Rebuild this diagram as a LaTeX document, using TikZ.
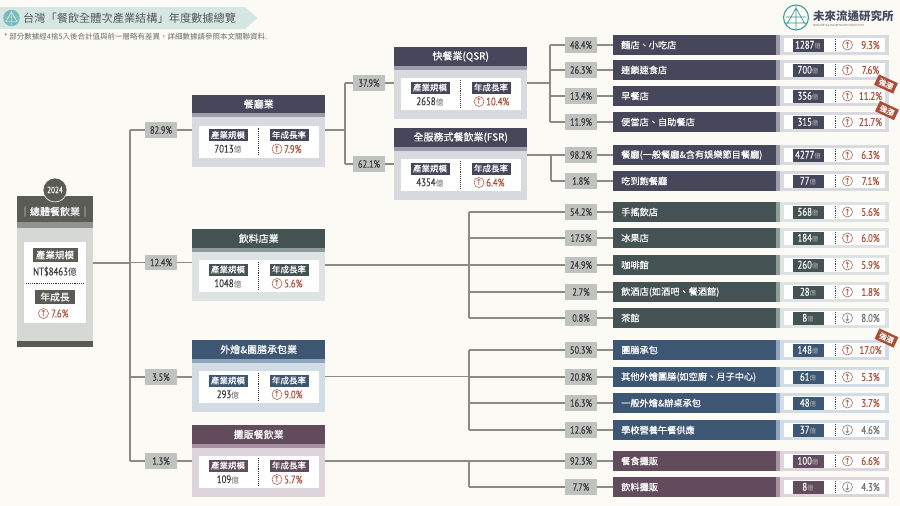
\documentclass[tikz,border=0pt]{standalone}
\usepackage{fontspec}
\setmainfont{Noto Sans CJK TC}
\newfontfamily\medfont[FakeBold=0.35]{Noto Sans CJK TC}
\newfontfamily\numfont[FakeStretch=0.8,FakeBold=0.2]{PT Sans}
\newfontfamily\arrowfont{DejaVu Sans}
\definecolor{bgc}{HTML}{FBFAF5}
\definecolor{linec}{HTML}{8B8B85}
\definecolor{pctc}{HTML}{BFC3BD}
\definecolor{redc}{HTML}{A94E36}
\definecolor{inkc}{HTML}{3A3A3A}
\definecolor{grayc}{HTML}{6B6E6C}
\definecolor{tealc}{HTML}{3F9C9C}
\definecolor{RDark}{HTML}{46475A}\definecolor{RMid}{HTML}{9C9DA9}\definecolor{RBody}{HTML}{D9DADF}
\definecolor{BDark}{HTML}{445253}\definecolor{BMid}{HTML}{8E9C9B}\definecolor{BBody}{HTML}{DDE2E2}
\definecolor{CDark}{HTML}{3D5674}\definecolor{CMid}{HTML}{8FA5BC}\definecolor{CBody}{HTML}{D2DCE5}
\definecolor{SDark}{HTML}{614B5C}\definecolor{SMid}{HTML}{A8929F}\definecolor{SBody}{HTML}{DED4DB}
\definecolor{GDark}{HTML}{5B5B55}\definecolor{GBody}{HTML}{D6D8D4}
\tikzset{
 conn/.style={draw=linec,line width=1.1pt},
 pct/.style={fill=pctc,text=inkc,font=\numfont\fontsize{10.5}{10.5}\selectfont,minimum width=32pt,minimum height=15.5pt,inner sep=0pt},
 tagbox/.style={text=white,font=\medfont\fontsize{8.5}{8.5}\selectfont,minimum height=12pt,inner sep=0pt},
 rowtxt/.style={text=white,font=\medfont\fontsize{9.2}{9.2}\selectfont,anchor=west,inner sep=0pt},
 valtxt/.style={font=\numfont\fontsize{11}{11}\selectfont,inner sep=0pt},
 uparrow/.style={draw=redc,circle,line width=0.5pt,minimum size=10pt,inner sep=0pt,text=redc,font=\fontsize{8.5}{8.5}\selectfont},
 downarrow/.style={draw=grayc,circle,line width=0.5pt,minimum size=10pt,inner sep=0pt,text=grayc,font=\fontsize{8.5}{8.5}\selectfont},
 hotbadge/.style={fill=redc,text=white,rotate=-25,font=\medfont\fontsize{7.5}{7.5}\selectfont,minimum width=21pt,minimum height=11.5pt,inner sep=0pt},
}
% #1 name, #2 y, #3 scheme, #4 pct, #5 label, #6 value, #7 rate, #8 u/d
\newcommand{\rowitem}[8]{%
 \node[pct] (p#1) at (581,-#2) {#4};
 \node[minimum width=163pt,minimum height=20pt,inner sep=0pt,fill=#3Dark,anchor=west] (b#1) at (613,-#2) {};
 \fill[#3Mid] (776,-#2-10) rectangle (780,-#2+10);
 \fill[#3Body] (780,-#2-10) rectangle (889,-#2+10);
 \fill[white] (784,-#2-7.3) rectangle (885,-#2+7.3);
 \node[rowtxt] (l#1) at (621,-#2) {#5};
 \fill[#3Dark] (792.5,-#2-6.5) rectangle (824,-#2+6.5);
 \node[valtxt,text=white] (v#1) at (808,-#2) {#6\textcolor{white!70!black}{\normalfont\fontsize{6.5}{6.5}\selectfont 億}};
 \draw[densely dotted,line width=0.9pt,color=inkc] (835,-#2-6) -- (835,-#2+6);
 \ifx#8u
  \node[uparrow] (a#1) at (847.5,-#2) {\arrowfont ↑};
  \node[valtxt,text=redc] (r#1) at (870.5,-#2) {#7};
 \else
  \node[downarrow] (a#1) at (847.5,-#2) {\arrowfont ↓};
  \node[valtxt,text=grayc] (r#1) at (870.5,-#2) {#7};
 \fi
 \draw[conn] (p#1) -- (b#1);
}
% #1 name, #2 x left, #3 y top, #4 scheme, #5 title, #6 value, #7 rate
\newcommand{\catbox}[7]{%
 \fill[#4Body] (#2,-#3) rectangle +(133,-72);
 \fill[#4Mid] (#2,-#3-18) rectangle +(133,-4.5);
 \node[minimum width=133pt,minimum height=18.5pt,inner sep=0pt,fill=#4Dark,anchor=north west,text=white,font=\medfont\fontsize{10}{10}\selectfont] (h#1) at (#2,-#3) {#5};
 \node[fill=white,minimum width=120pt,minimum height=32pt,inner sep=0pt,anchor=north west] (w#1) at (#2+6.5,-#3-31) {};
 \node[tagbox,fill=#4Dark,minimum width=39pt] at (#2+36,-#3-40.5) {產業規模};
 \node[tagbox,fill=#4Dark,minimum width=39pt] at (#2+97,-#3-40.5) {年成長率};
 \node[valtxt,text=inkc] at (#2+36,-#3-54.5) {#6\textcolor{grayc}{\normalfont\fontsize{8}{8}\selectfont 億}};
 \node[uparrow] (ca#1) at (#2+85,-#3-54.5) {\arrowfont ↑};
 \node[valtxt,text=redc,anchor=west] at (#2+92,-#3-54.5) {#7};
 \draw[densely dotted,line width=0.9pt,color=inkc] (#2+66.5,-#3-33) -- (#2+66.5,-#3-61);
}
\begin{document}
\begin{tikzpicture}[x=1pt,y=1pt]
\useasboundingbox (0,0) rectangle (900,-506);
\fill[bgc] (0,0) rectangle (900,-506);
% title banner
\fill[tealc!20!bgc] (0,-7) -- (245,-7) -- (257.5,-18) -- (245,-29) -- (0,-29) -- cycle;
\node[circle,fill=tealc!70!white,minimum size=16.5pt,inner sep=0pt] (tlogo) at (11.5,-18) {};
\draw[white,line width=0.4pt] (4.5,-17) -- (18.5,-17) (11.5,-10.5) -- (11.5,-25.5) (6,-21.5) -- (11.5,-12) -- (17,-21.5) (5.5,-21.5) -- (17.5,-21.5);
\node[anchor=west,inner sep=0pt,text=inkc!85!white,font=\fontsize{11.2}{11.2}\selectfont] (title) at (23,-18) {台灣「餐飲全體次產業結構」年度數據總覽};
\node[anchor=west,inner sep=0pt,text=grayc,font=\fontsize{7.5}{7.5}\selectfont] (note) at (4,-37) {* 部分數據經4捨5入後合計值與前一層略有差異，詳細數據請參照本文關聯資料.};
% logo
\node[draw=tealc,line width=1.1pt,circle,minimum size=25pt,inner sep=0pt] (logo) at (796,-17.5) {};
\draw[tealc,line width=0.7pt] (786,-17) -- (806,-17) (796,-6) -- (796,-29) (787,-24) -- (796,-8) -- (805,-24) (785,-23) -- (807,-23);
\node[anchor=west,inner sep=0pt,text=RDark!70!CDark,font=\bfseries\fontsize{11.5}{11.5}\selectfont] (lname) at (813,-16) {未來流通研究所};
\node[anchor=west,inner sep=0pt,text=grayc,font=\fontsize{2.8}{2.8}\selectfont] (lsub) at (813,-25.5) {MIRAI  RETAILING  RESEARCH  INSTITUTE};
% root
\fill[GBody] (17,-196) rectangle (93,-347);
\fill[GDark] (17,-196) rectangle (93,-222);
\fill[GDark!55!GBody] (17,-222) rectangle (93,-228);
\fill[GDark] (17,-341) rectangle (93,-347);
\node[circle,fill=GDark,draw=bgc,line width=0.6pt,minimum size=24pt,inner sep=0pt,text=white,font=\numfont\fontsize{9}{9}\selectfont] (yr) at (55,-190) {2024};
\node[text=white,font=\medfont\fontsize{10}{10}\selectfont,inner sep=0pt] (rt) at (55,-211.5) {│總體餐飲業│};
\node[fill=white,minimum width=62pt,minimum height=81pt,inner sep=0pt,anchor=north west] (rw) at (24,-242) {};
\node[tagbox,fill=GDark,minimum width=45pt,minimum height=14.5pt,font=\medfont\fontsize{9.5}{9.5}\selectfont] (r1) at (55,-255) {產業規模};
\node[text=inkc,font=\numfont\fontsize{11}{11}\selectfont,inner sep=0pt] (r2) at (55,-271.5) {NT\$8463\normalfont\fontsize{9}{9}\selectfont 億};
\draw[densely dotted,line width=0.9pt,color=inkc] (26,-283) -- (84,-283);
\node[tagbox,fill=GDark,minimum width=40pt,minimum height=14.5pt,font=\medfont\fontsize{9.7}{9.7}\selectfont] (r3) at (55,-297) {年成長};
\node[uparrow] (ra) at (43.5,-313.5) {\arrowfont ↑};
\node[valtxt,text=redc,anchor=west] (rr) at (51,-313.5) {7.6\%};
\coordinate (rootout) at (93,-263);
% trunks
\coordinate (t0a) at (130,-130); \coordinate (t0b) at (130,-461); \coordinate (t0c) at (130,-263);
\draw[conn] (t0a) -- (t0b);
\draw[conn] (rootout) -- (t0c);
\coordinate (t1a) at (345,-83); \coordinate (t1b) at (345,-164); \coordinate (t1c) at (345,-130);
\coordinate (t2a) at (550,-45); \coordinate (t2b) at (550,-122); \coordinate (t2c) at (550,-83);
\coordinate (t3a) at (551,-155); \coordinate (t3b) at (551,-181);
\coordinate (t4a) at (469,-212); \coordinate (t4b) at (469,-318); \coordinate (t4c) at (469,-265);
\coordinate (t5a) at (469,-350); \coordinate (t5b) at (469,-430); \coordinate (t5c) at (469,-376.5);
\coordinate (t6a) at (469,-461); \coordinate (t6b) at (469,-487);
\draw[conn] (t1a) -- (t1b);
\draw[conn] (t2a) -- (t2b);
\draw[conn] (t3a) -- (t3b);
\draw[conn] (t4a) -- (t4b);
\draw[conn] (t5a) -- (t5b);
\draw[conn] (t6a) -- (t6b);
% level 2 connectors
\node[pct] (q1) at (161,-130) {82.9\%};
\node[pct] (q2) at (161,-262.5) {12.4\%};
\node[pct] (q3) at (161,-377) {3.5\%};
\node[pct] (q4) at (161,-461) {1.3\%};
\coordinate (e1) at (192,-130); \coordinate (e2) at (192,-262.5); \coordinate (e3) at (192,-377); \coordinate (e4) at (192,-461);
\coordinate (f1) at (130,-130); \coordinate (f2) at (130,-262.5); \coordinate (f3) at (130,-377); \coordinate (f4) at (130,-461);
\foreach \i in {1,2,3,4}{\draw[conn] (f\i) -- (q\i) -- (e\i);}
% level 3 connectors
\node[pct] (q5) at (369,-83) {37.9\%};
\node[pct] (q6) at (369,-164) {62.1\%};
\coordinate (e5) at (394,-83); \coordinate (e6) at (394,-164);
\coordinate (o1) at (325,-130);
\draw[conn] (t1a) -- (q5) -- (e5);
\draw[conn] (t1b) -- (q6) -- (e6);
\draw[conn] (o1) -- (t1c);
\coordinate (o2) at (527,-83); \draw[conn] (o2) -- (t2c);
\coordinate (o3) at (527,-155); \draw[conn] (o3) -- (t3a);
\coordinate (o4) at (325,-265); \draw[conn] (o4) -- (t4c);
\coordinate (o5) at (325,-376.5); \draw[conn] (o5) -- (t5c);
\coordinate (o6) at (325,-461); \draw[conn] (o6) -- (t6a);
% boxes
\catbox{a}{192}{94.5}{R}{餐廳業}{7013}{7.9\%}
\catbox{b}{192}{229}{B}{飲料店業}{1048}{5.6\%}
\catbox{c}{192}{340}{C}{外燴\&團膳承包業}{293}{9.0\%}
\catbox{d}{192}{425}{S}{攤販餐飲業}{109}{5.7\%}
\catbox{e}{394}{47}{R}{快餐業(QSR)}{2658}{10.4\%}
\catbox{f}{394}{128}{R}{全服務式餐飲業(FSR)}{4354}{6.4\%}
% rows
\rowitem{1}{45}{R}{48.4\%}{麵店、小吃店}{1287}{9.3\%}{u}
\rowitem{2}{70}{R}{26.3\%}{連鎖速食店}{700}{7.6\%}{u}
\rowitem{3}{96}{R}{13.4\%}{早餐店}{356}{11.2\%}{u}
\rowitem{4}{122}{R}{11.9\%}{便當店、自助餐店}{315}{21.7\%}{u}
\rowitem{5}{155}{R}{98.2\%}{餐廳(一般餐廳\&含有娛樂節目餐廳)}{4277}{6.3\%}{u}
\rowitem{6}{181}{R}{1.8\%}{吃到飽餐廳}{77}{7.1\%}{u}
\rowitem{7}{212}{B}{54.2\%}{手搖飲店}{568}{5.6\%}{u}
\rowitem{8}{238}{B}{17.5\%}{冰果店}{184}{6.0\%}{u}
\rowitem{9}{265}{B}{24.9\%}{咖啡館}{260}{5.9\%}{u}
\rowitem{10}{292}{B}{2.7\%}{飲酒店(如酒吧、餐酒館)}{28}{1.8\%}{u}
\rowitem{11}{318}{B}{0.8\%}{茶館}{8}{8.0\%}{d}
\rowitem{12}{350}{C}{50.3\%}{團膳承包}{148}{17.0\%}{u}
\rowitem{13}{377}{C}{20.8\%}{其他外燴團膳(如空廚、月子中心)}{61}{5.3\%}{u}
\rowitem{14}{403}{C}{16.3\%}{一般外燴\&辦桌承包}{48}{3.7\%}{u}
\rowitem{15}{430}{C}{12.6\%}{學校營養午餐供應}{37}{4.6\%}{d}
\rowitem{16}{461}{S}{92.3\%}{餐食攤販}{100}{6.6\%}{u}
\rowitem{17}{487}{S}{7.7\%}{飲料攤販}{8}{4.3\%}{d}
% trunk stubs
\foreach \n/\t/\yy in {1/2/45,2/2/70,3/2/96,4/2/122,5/3/155,6/3/181,7/4/212,8/4/238,9/4/265,10/4/292,11/4/318,12/5/350,13/5/377,14/5/403,15/5/430,16/6/461,17/6/487}{
 \draw[conn] (t\t a |- p\n) -- (p\n);
}
\node[hotbadge] (h1) at (886,-84) {強漲};
\node[hotbadge] (h2) at (887,-110.5) {強漲};
\node[hotbadge] (h3) at (886.5,-338) {強漲};
\end{tikzpicture}
\end{document}
